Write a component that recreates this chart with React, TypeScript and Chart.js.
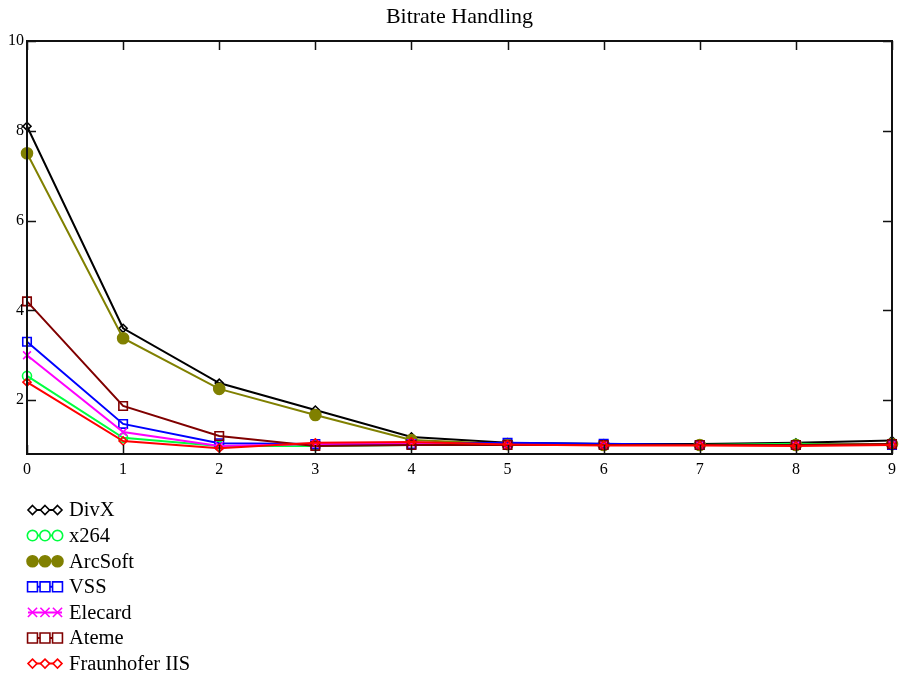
import React, { useEffect, useRef } from "react";
import { Chart, registerables } from "chart.js";

Chart.register(...registerables);

const TITLE = "Bitrate Handling";
const CATEGORIES = ["0", "1", "2", "3", "4", "5", "6", "7", "8", "9"];
const Y_TICKS = [2, 4, 6, 8, 10];
const Y_MIN = 0.8;
const Y_MAX = 10;

const DIVX = [8.1, 3.6, 2.38, 1.78, 1.18, 1.05, 1.02, 1.02, 1.05, 1.1];
const X264 = [2.54, 1.16, 0.98, 0.98, 1.0, 1.02, 1.0, 1.0, 1.03, 1.0];
const ARCSOFT = [7.5, 3.38, 2.25, 1.67, 1.11, 1.02, 1.0, 1.0, 1.0, 1.02];
const VSS = [3.3, 1.47, 1.04, 1.02, 1.02, 1.05, 1.03, 1.0, 1.0, 1.0];
const ELECARD = [3.0, 1.29, 0.98, 1.02, 1.04, 1.0, 1.0, 1.0, 1.0, 1.0];
const ATEME = [4.2, 1.87, 1.2, 0.98, 1.0, 1.0, 1.0, 1.0, 1.0, 1.02];
const FRAUNHOFER = [2.4, 1.09, 0.93, 1.05, 1.07, 1.01, 0.99, 0.99, 0.98, 1.0];

const SERIES_NAMES = ["DivX", "x264", "ArcSoft", "VSS", "Elecard", "Ateme", "Fraunhofer IIS"];
const SERIES_DATA = [DIVX, X264, ARCSOFT, VSS, ELECARD, ATEME, FRAUNHOFER];
const SERIES_COLORS = ["#000000", "#00ff40", "#808000", "#0000ff", "#ff00ff", "#800000", "#ff0000"];
const SERIES_MARKERS = ["rectRot", "circle", "circle", "rect", "crossRot", "rect", "rectRot"];
const SERIES_RADIUS = [4, 4.5, 5.5, 6, 5.5, 6, 4];
const LEGEND_RADIUS = [4.5, 5.2, 5.5, 7, 6.5, 7, 4.5];
const SERIES_FILLED = [false, false, true, false, false, false, false];

const FONT = "'Liberation Serif', 'Times New Roman', serif";

function drawMarker(ctx: CanvasRenderingContext2D, style: string, x: number, y: number, r: number, color: string, filled: boolean) {
  ctx.save();
  ctx.strokeStyle = color;
  ctx.fillStyle = filled ? color : "#ffffff";
  ctx.lineWidth = 1.6;
  ctx.beginPath();
  if (style === "circle") {
    ctx.arc(x, y, r, 0, Math.PI * 2);
    ctx.fill();
    ctx.stroke();
  } else if (style === "rect") {
    const s = r * Math.SQRT1_2;
    ctx.rect(x - s, y - s, 2 * s, 2 * s);
    ctx.fill();
    ctx.stroke();
  } else if (style === "rectRot") {
    ctx.moveTo(x, y - r);
    ctx.lineTo(x + r, y);
    ctx.lineTo(x, y + r);
    ctx.lineTo(x - r, y);
    ctx.closePath();
    ctx.fill();
    ctx.stroke();
  } else if (style === "crossRot") {
    const s = r * Math.SQRT1_2;
    ctx.moveTo(x - s, y - s);
    ctx.lineTo(x + s, y + s);
    ctx.moveTo(x + s, y - s);
    ctx.lineTo(x - s, y + s);
    ctx.stroke();
  }
  ctx.restore();
}

const framePlugin = {
  id: "framePlugin",
  afterDraw(chart: any) {
    const ctx: CanvasRenderingContext2D = chart.ctx;
    const { left, right, top, bottom } = chart.chartArea;
    const xs = chart.scales.x;
    const ys = chart.scales.y;
    ctx.save();
    // title
    ctx.fillStyle = "#000";
    ctx.font = `22px ${FONT}`;
    ctx.textAlign = "center";
    ctx.textBaseline = "middle";
    ctx.fillText(TITLE, (left + right) / 2, 17);
    // frame
    ctx.strokeStyle = "#111";
    ctx.lineWidth = 2;
    ctx.strokeRect(left, top, right - left, bottom - top);
    const tl = 9;
    ctx.lineWidth = 1.5;
    ctx.beginPath();
    CATEGORIES.forEach((_, i) => {
      const px = Math.round(xs.getPixelForValue(i)) + 0.5;
      ctx.moveTo(px, bottom);
      ctx.lineTo(px, bottom - tl);
      ctx.moveTo(px, top);
      ctx.lineTo(px, top + tl);
    });
    Y_TICKS.forEach((v) => {
      const py = Math.round(ys.getPixelForValue(v)) + 0.5;
      ctx.moveTo(left, py);
      ctx.lineTo(left + tl, py);
      ctx.moveTo(right, py);
      ctx.lineTo(right - tl, py);
    });
    ctx.stroke();
    // legend
    ctx.font = `20.5px ${FONT}`;
    ctx.textAlign = "left";
    ctx.textBaseline = "middle";
    SERIES_NAMES.forEach((name, i) => {
      const y = 510 + i * 25.6;
      ctx.strokeStyle = SERIES_COLORS[i];
      ctx.lineWidth = 2;
      ctx.beginPath();
      ctx.moveTo(28, y);
      ctx.lineTo(62, y);
      ctx.stroke();
      [32.5, 45, 57.5].forEach((mx) => {
        drawMarker(ctx, SERIES_MARKERS[i], mx, y, LEGEND_RADIUS[i], SERIES_COLORS[i], SERIES_FILLED[i]);
      });
      ctx.fillStyle = "#000";
      ctx.fillText(name, 69, y + 1);
    });
    ctx.restore();
  },
};

export default function App() {
  const ref = useRef<HTMLCanvasElement>(null);
  useEffect(() => {
    if (!ref.current) return;
    const chart = new Chart(ref.current, {
      type: "line",
      data: {
        labels: CATEGORIES,
        datasets: SERIES_NAMES.map((name, i) => ({
          label: name,
          data: SERIES_DATA[i],
          borderColor: SERIES_COLORS[i],
          backgroundColor: SERIES_COLORS[i],
          borderWidth: 2,
          pointStyle: SERIES_MARKERS[i] as any,
          pointRadius: SERIES_RADIUS[i],
          pointBorderWidth: 1.6,
          pointBorderColor: SERIES_COLORS[i],
          pointBackgroundColor: SERIES_FILLED[i] ? SERIES_COLORS[i] : "rgba(255,255,255,0)",
          tension: 0,
          fill: false,
          order: SERIES_NAMES.length - 1 - i,
        })),
      },
      options: {
        animation: false,
        responsive: false,
        layout: { padding: { left: 0, right: 12, top: 41, bottom: 196 } },
        plugins: {
          legend: { display: false },
          title: { display: false },
          tooltip: { enabled: false },
        },
        scales: {
          x: {
            type: "category",
            offset: false,
            grid: { display: false, drawTicks: false },
            border: { display: false },
            ticks: {
              color: "#000",
              font: { family: FONT, size: 16 },
              padding: 6,
              maxRotation: 0,
              autoSkip: false,
            },
            afterFit: (s: any) => {
              s.height = 30;
            },
          },
          y: {
            type: "linear",
            min: Y_MIN,
            max: Y_MAX,
            grid: { display: false, drawTicks: false },
            border: { display: false },
            afterBuildTicks: (s: any) => {
              s.ticks = Y_TICKS.map((v) => ({ value: v }));
            },
            ticks: {
              color: "#000",
              font: { family: FONT, size: 16 },
              padding: 3,
            },
            afterFit: (s: any) => {
              s.width = 27;
            },
          },
        },
      },
      plugins: [framePlugin],
    });
    return () => chart.destroy();
  }, []);
  return (
    <div style={{ position: "absolute", left: 0, top: 0, width: 904, height: 680, background: "#fff" }}>
      <canvas ref={ref} width={904} height={680} style={{ width: 904, height: 680 }} />
    </div>
  );
}
